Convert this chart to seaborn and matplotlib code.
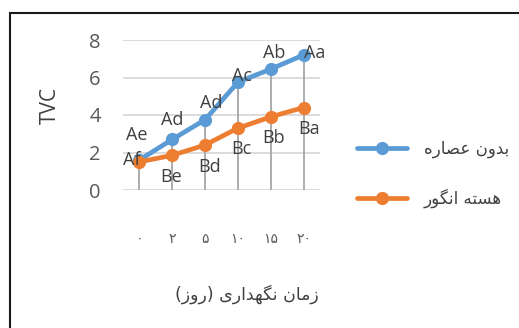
import numpy as np
import pandas as pd
import matplotlib
matplotlib.use('Agg')
import matplotlib.pyplot as plt
import seaborn as sns

# داده ها
days = ['۰', '۲', '۵', '۱۰', '۱۵', '۲۰']
control = [1.6, 2.7, 3.75, 5.75, 6.45, 7.2]
grape_seed = [1.5, 1.85, 2.4, 3.3, 3.9, 4.4]
control_letters = ['Ae', 'Ad', 'Ad', 'Ac', 'Ab', 'Aa']
grape_letters = ['Af', 'Be', 'Bd', 'Bc', 'Bb', 'Ba']
series_names = ['بدون عصاره', 'هسته انگور']
x_title = 'زمان نگهداری (روز)'
y_title = 'TVC'

# offsets of the data labels (pixels)
control_offsets = [(-3, 25), (0, 19), (6, 17), (4, 6), (3, 16), (11, 2)]
grape_offsets = [(-8, 2), (-1, -22), (4, -22), (3, -21), (3, -21), (5, -21)]

# شکل دادن حروف فارسی (matplotlib خودش این کار را نمی کند)
FORMS = {
    'ا': ('\uFE8D', '\uFE8E', None, None),
    'ب': ('\uFE8F', '\uFE90', '\uFE91', '\uFE92'),
    'ت': ('\uFE95', '\uFE96', '\uFE97', '\uFE98'),
    'د': ('\uFEA9', '\uFEAA', None, None),
    'ر': ('\uFEAD', '\uFEAE', None, None),
    'ز': ('\uFEAF', '\uFEB0', None, None),
    'س': ('\uFEB1', '\uFEB2', '\uFEB3', '\uFEB4'),
    'ص': ('\uFEB9', '\uFEBA', '\uFEBB', '\uFEBC'),
    'ع': ('\uFEC9', '\uFECA', '\uFECB', '\uFECC'),
    'م': ('\uFEE1', '\uFEE2', '\uFEE3', '\uFEE4'),
    'ن': ('\uFEE5', '\uFEE6', '\uFEE7', '\uFEE8'),
    'ه': ('\uFEE9', '\uFEEA', '\uFEEB', '\uFEEC'),
    'و': ('\uFEED', '\uFEEE', None, None),
    'ی': ('\uFBFC', '\uFBFD', '\uFBFE', '\uFBFF'),
    'گ': ('\uFB92', '\uFB93', '\uFB94', '\uFB95'),
}


def fa(text):
    out = []
    for i, ch in enumerate(text):
        if ch not in FORMS:
            out.append(ch)
            continue
        prev = text[i - 1] if i > 0 else ''
        nxt = text[i + 1] if i + 1 < len(text) else ''
        join_prev = prev in FORMS and FORMS[prev][2] is not None
        join_next = nxt in FORMS and FORMS[ch][2] is not None
        iso, fin, ini, med = FORMS[ch]
        if join_prev and join_next:
            out.append(med)
        elif join_prev:
            out.append(fin)
        elif join_next:
            out.append(ini)
        else:
            out.append(iso)
    s = ''.join(out)[::-1]
    return s.translate(str.maketrans('()', ')('))


df = pd.DataFrame({
    'pos': list(range(len(days))) * 2,
    'tvc': control + grape_seed,
    'treatment': [fa(series_names[0])] * len(days) + [fa(series_names[1])] * len(days),
})

sns.set_style('white')
plt.rcParams['font.family'] = ['Open Sans', 'DejaVu Sans']

fig = plt.figure(figsize=(5.19, 3.28), dpi=100)
ax = fig.add_axes([123 / 519, 138 / 328, 197 / 519, 150 / 328])

blue = '#5B9BD5'
orange = '#ED7D31'

ax.set_xlim(-0.5, len(days) - 0.5)
ax.set_ylim(0, 8)
ax.set_yticks([0, 2, 4, 6, 8])
for yv in [0, 2, 4, 6, 8]:
    ax.axhline(yv, color='#d9d9d9', lw=1.3, zorder=0)

# drop lines
tops = np.maximum(control, grape_seed)
ax.vlines(range(len(days)), 0, tops, color='#a6a6a6', lw=1.3, zorder=1)

sns.lineplot(data=df, x='pos', y='tvc', hue='treatment', palette=[blue, orange],
             marker='o', markersize=9.5, markeredgewidth=0, linewidth=3.4, ax=ax, zorder=3)

for i in range(len(days)):
    ax.annotate(control_letters[i], (i, control[i]), xytext=(control_offsets[i][0] * 0.72, control_offsets[i][1] * 0.72),
                textcoords='offset points', ha='center', va='center', fontsize=13, color='#404040', zorder=5)
    ax.annotate(grape_letters[i], (i, grape_seed[i]), xytext=(grape_offsets[i][0] * 0.72, grape_offsets[i][1] * 0.72),
                textcoords='offset points', ha='center', va='center', fontsize=13, color='#404040', zorder=5)

ax.set_xticks(range(len(days)))
ax.set_xticklabels(days, fontsize=10, color='#595959', family=['DejaVu Sans'])
ax.tick_params(axis='x', length=0, pad=30)
ax.tick_params(axis='y', length=0, pad=16, labelsize=14.5, labelcolor='#595959')
for s in ax.spines.values():
    s.set_visible(False)

ax.set_xlabel('')
ax.set_ylabel('')
fig.text(50 / 519, 1 - 105 / 328, y_title, rotation=90, ha='center', va='center', fontsize=15, color='#404040')
fig.text(247 / 519, 1 - 294 / 328, fa(x_title), ha='center', va='center', fontsize=12.5, color='#404040',
         family=['DejaVu Sans'])

handles, labels = ax.get_legend_handles_labels()
leg = ax.legend(handles, labels, loc='center left', bbox_to_anchor=(357 / 519, 1 - 174 / 328),
                bbox_transform=fig.transFigure, frameon=False, borderpad=0, borderaxespad=0,
                handlelength=3.0, handletextpad=1.0, labelspacing=1.85,
                prop={'family': ['DejaVu Sans'], 'size': 12})
for t in leg.get_texts():
    t.set_color('#404040')

# chart border
fig.add_artist(plt.Rectangle((10 / 519, -0.05), 1.2, 1 - 13 / 328 + 0.05, transform=fig.transFigure,
                             fill=False, edgecolor='#1a1a1a', lw=1.5))

fig.savefig('out.png', dpi=100)
